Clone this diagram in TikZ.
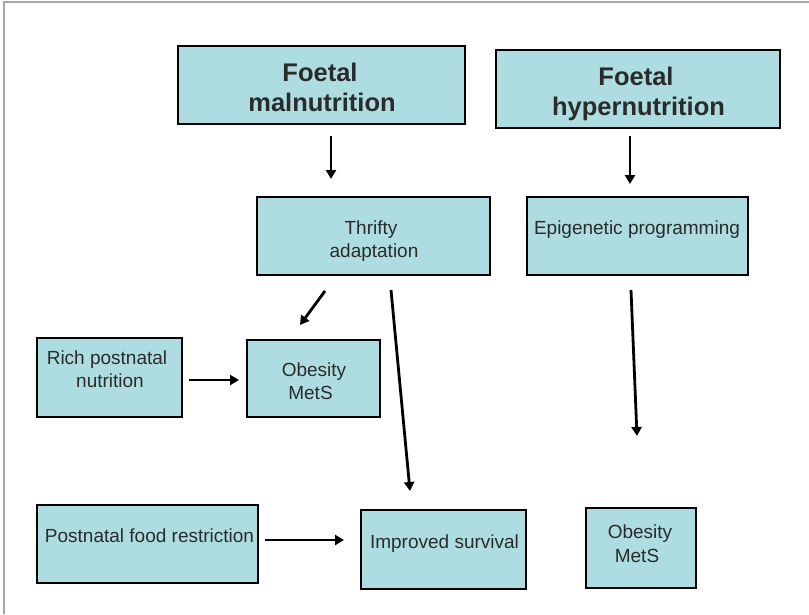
\documentclass[tikz,border=0pt]{standalone}
\usepackage{fontspec}
\setmainfont{Liberation Sans}
\usetikzlibrary{arrows.meta}
\definecolor{boxfill}{HTML}{ADDDE0}
\definecolor{txt}{HTML}{2B2B2B}
\begin{document}
\begin{tikzpicture}[x=1pt,y=-1pt,
  box/.style={draw=black,line width=2pt,fill=boxfill,rectangle,inner sep=0pt},
  lbl/.style={anchor=base,inner sep=0pt,text=txt,font=\fontsize{19}{23}\selectfont},
  head/.style={anchor=base,inner sep=0pt,text=txt,font=\fontsize{25.5}{30}\selectfont\bfseries},
  arr/.style={line width=2.8pt,-{Triangle[length=9pt,width=10pt]}}]
\useasboundingbox (0,0) rectangle (809,614);
\fill[white] (0,0) rectangle (809,614);
% slide frame
\draw[gray!70,line width=1.4pt] (809,2) -- (4,2) -- (4,614);

% boxes
\node[box,minimum width=287pt,minimum height=78pt] (fm) at (321.5,85) {};
\node[box,minimum width=284pt,minimum height=78pt] (fh) at (638,89) {};
\node[box,minimum width=233pt,minimum height=78pt] (ta) at (373.5,236) {};
\node[box,minimum width=221pt,minimum height=78pt] (ep) at (637.5,236) {};
\node[box,minimum width=145pt,minimum height=79pt] (rp) at (109.5,377.5) {};
\node[box,minimum width=133pt,minimum height=77pt] (om) at (313.5,378.5) {};
\node[box,minimum width=221pt,minimum height=78pt] (pf) at (147.5,544) {};
\node[box,minimum width=165pt,minimum height=79pt] (is) at (443.5,549.5) {};
\node[box,minimum width=110pt,minimum height=80pt] (or) at (641,548) {};

% texts
\node[head] (fm1) at (320,81) {Foetal};
\node[head] (fm2) at (322,111) {malnutrition};
\node[head] (fh1) at (636,85) {Foetal};
\node[head] (fh2) at (638.5,115) {hypernutrition};
\node[lbl] (ta1) at (371,234) {Thrifty};
\node[lbl] (ta2) at (374,257) {adaptation};
\node[lbl] (ep1) at (637,234) {Epigenetic programming};
\node[lbl] (rp1) at (107,364) {Rich postnatal};
\node[lbl] (rp2) at (110,387) {nutrition};
\node[lbl] (om1) at (314,376) {Obesity};
\node[lbl] (om2) at (310.5,399) {MetS};
\node[lbl] (pf1) at (149.5,542) {Postnatal food restriction};
\node[lbl] (is1) at (444.5,548) {Improved survival};
\node[lbl] (or1) at (640,538) {Obesity};
\node[lbl] (or2) at (637,562) {MetS};

% connectors (shifts are in page direction: positive yshift moves up)
\draw[arr] ([xshift=9.5pt,yshift=-11pt]fm.south) -- ([xshift=-42.5pt,yshift=17pt]ta.north);
\draw[arr] ([xshift=-8pt,yshift=-7pt]fh.south) -- ([xshift=-7.5pt,yshift=12pt]ep.north);
\draw[arr] ([xshift=-48.5pt,yshift=-15pt]ta.south) -- ([xshift=-13.5pt,yshift=14pt]om.north);
\draw[arr] ([xshift=17.5pt,yshift=-14pt]ta.south) -- ([xshift=-33.5pt,yshift=18pt]is.north);
\draw[arr] ([xshift=-6.5pt,yshift=-14pt]ep.south) -- ([xshift=-4pt,yshift=71pt]or.north);
\draw[arr] ([xshift=6pt,yshift=-2.5pt]rp.east) -- ([xshift=-7pt,yshift=-1.5pt]om.west);
\draw[arr] ([xshift=6pt,yshift=4pt]pf.east) -- ([xshift=-16pt,yshift=9.5pt]is.west);
\end{tikzpicture}
\end{document}
